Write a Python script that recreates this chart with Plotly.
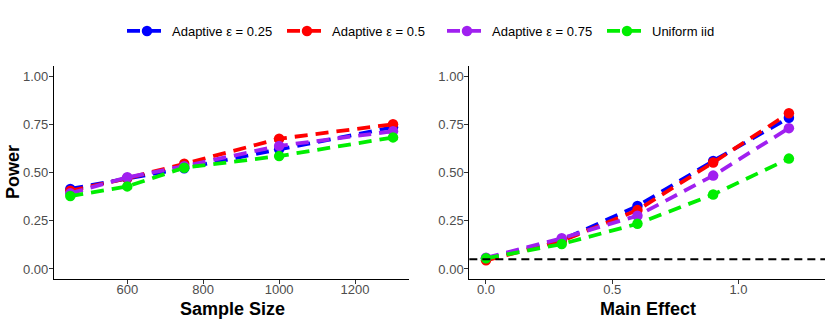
import plotly.graph_objects as go

# data
sample_size = [450, 600, 750, 1000, 1300]
main_effect = [0.0, 0.3, 0.6, 0.9, 1.2]

series = ["Adaptive ε = 0.25", "Adaptive ε = 0.5", "Adaptive ε = 0.75", "Uniform iid"]
colors = ["#0000FF", "#FF0000", "#A020F0", "#00EE00"]

power_n = [
    [0.415, 0.470, 0.522, 0.620, 0.735],
    [0.405, 0.470, 0.545, 0.675, 0.750],
    [0.392, 0.475, 0.533, 0.638, 0.714],
    [0.378, 0.428, 0.525, 0.585, 0.682],
]
power_eff = [
    [0.055, 0.150, 0.326, 0.560, 0.784],
    [0.045, 0.145, 0.305, 0.552, 0.807],
    [0.058, 0.159, 0.276, 0.484, 0.730],
    [0.055, 0.129, 0.234, 0.386, 0.572],
]
alpha = 0.05

fig = go.Figure()

for name, col, yl, yr in zip(series, colors, power_n, power_eff):
    fig.add_trace(go.Scatter(
        x=sample_size, y=yl, mode="lines+markers", name=name,
        line=dict(color=col, width=3.8, dash="13px,8px"),
        marker=dict(color=col, size=10.5),
        xaxis="x", yaxis="y", legendgroup=name))
    fig.add_trace(go.Scatter(
        x=main_effect, y=yr, mode="lines+markers", name=name, showlegend=False,
        line=dict(color=col, width=3.8, dash="13px,8px"),
        marker=dict(color=col, size=10.5),
        xaxis="x2", yaxis="y2", legendgroup=name))

# nominal level line
fig.add_shape(type="line", xref="x2 domain", yref="y2", x0=0, x1=1, y0=alpha, y1=alpha,
              line=dict(color="black", width=2, dash="8px,5px"))

font_fam = "Liberation Sans, Arial, sans-serif"
tick_font = dict(family=font_fam, size=13, color="#4D4D4D")
title_font = dict(family=font_fam, size=18, color="black")
axis_common = dict(showgrid=False, zeroline=False, showline=True, linecolor="black", linewidth=1.2,
                   ticks="outside", ticklen=4, tickcolor="#333333", tickfont=tick_font,
                   automargin=False)

# axis titles placed in pixel space of the container
for txt, x, y, ang in [("Sample Size", 232, 309, 0), ("Main Effect", 648, 309, 0), ("Power", 13, 172, -90)]:
    fig.add_annotation(text="<b>%s</b>" % txt, xref="paper", yref="paper",
                       x=(x - 54) / 771, y=(279 - y) / 213, showarrow=False,
                       xanchor="center", yanchor="middle", textangle=ang, font=title_font)

fig.update_layout(
    width=830, height=320,
    margin=dict(l=54, r=5, t=66, b=41, autoexpand=False),
    plot_bgcolor="white", paper_bgcolor="white",
    font=dict(family=font_fam),
    xaxis=dict(domain=[0, 0.4604], range=[407, 1342], tickvals=[600, 800, 1000, 1200],
               ticklabelstandoff=-6, **axis_common),
    yaxis=dict(range=[-0.052, 1.052], tickvals=[0, 0.25, 0.5, 0.75, 1.0], tickformat=".2f",
               ticklabelstandoff=-2, **axis_common),
    xaxis2=dict(domain=[0.5387, 1], range=[-0.066, 1.343], tickvals=[0, 0.5, 1.0], tickformat=".1f",
                anchor="y2", ticklabelstandoff=-6, **axis_common),
    yaxis2=dict(range=[-0.052, 1.052], tickvals=[0, 0.25, 0.5, 0.75, 1.0], tickformat=".2f",
                anchor="x2", ticklabelstandoff=-2, **axis_common),
    legend=dict(orientation="h", xref="container", yref="container", x=442 / 830, y=1 - 31 / 320,
                xanchor="center", yanchor="middle",
                font=dict(family=font_fam, size=13, color="black"),
                itemwidth=40, entrywidth=105, entrywidthmode="pixels"),
    showlegend=True,
)

# the page's default body margin would shift the figure; drop it
fig.write_html("out.html", config={"displayModeBar": False},
               post_script="document.body.style.margin='0';")
